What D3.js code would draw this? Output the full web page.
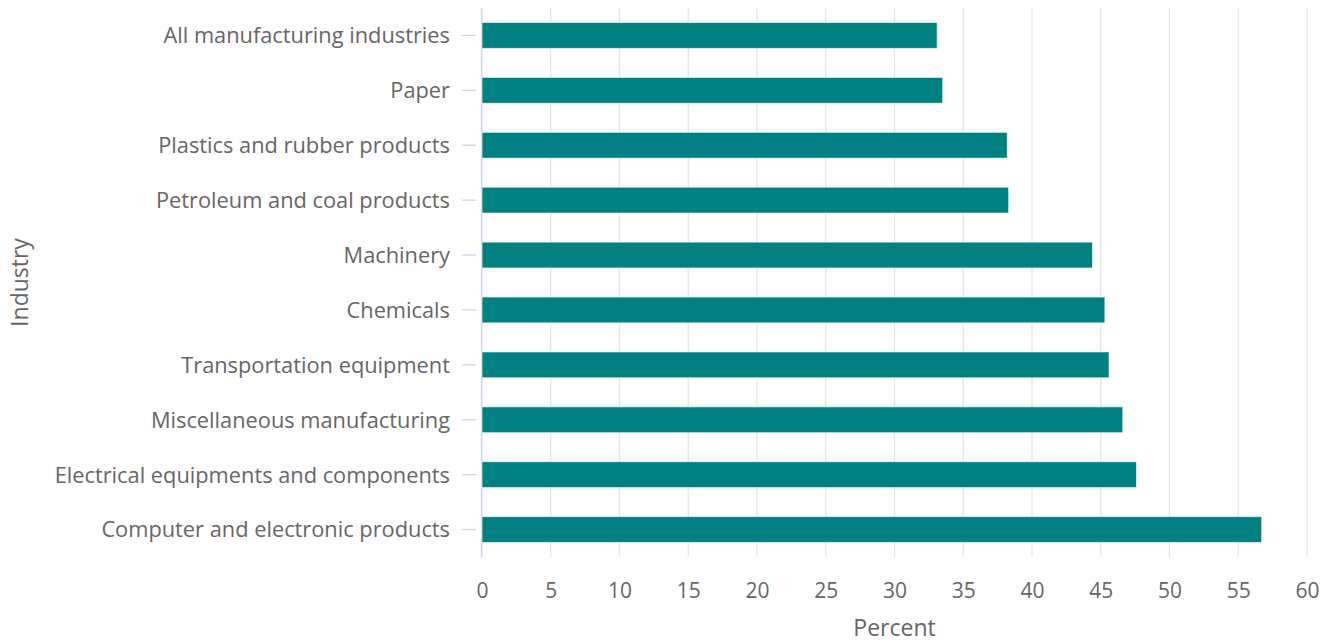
<!DOCTYPE html>
<html>
<head>
<meta charset="utf-8">
<script src="https://cdn.jsdelivr.net/npm/d3@7"></script>
<style>
    body { margin: 0; background: #fff; }
    svg { display: block; }
    svg text { font-family: "Open Sans", sans-serif; }
</style>
</head>
<body>
<div id="chart"></div>
<script>
    // industries, top to bottom
    var industries = [
        'All manufacturing industries',
        'Paper',
        'Plastics and rubber products',
        'Petroleum and coal products',
        'Machinery',
        'Chemicals',
        'Transportation equipment',
        'Miscellaneous manufacturing',
        'Electrical equipments and components',
        'Computer and electronic products'
    ];
    var percents = [33.1, 33.5, 38.2, 38.3, 44.4, 45.3, 45.6, 46.6, 47.6, 56.7];
    var xTicks = [0, 5, 10, 15, 20, 25, 30, 35, 40, 45, 50, 55, 60];

    var width = 1335,
        height = 644,
        margin = {top: 8, right: 28, bottom: 87, left: 482};

    var svg = d3.select('#chart')
        .append('svg')
        .attr('width', width)
        .attr('height', height);

    var x = d3.scaleLinear()
        .domain([0, 60])
        .range([margin.left, width - margin.right]);

    var y = d3.scaleBand()
        .domain(industries)
        .range([margin.top, height - margin.bottom])
        .paddingInner(0.53)
        .paddingOuter(0.265);

    var rows = industries.map(function (name, i) {
        return {name: name, value: percents[i]};
    });

    // vertical grid
    svg.append('g')
        .selectAll('line')
        .data(xTicks)
        .enter()
        .append('line')
        .attr('x1', function (d) { return x(d); })
        .attr('x2', function (d) { return x(d); })
        .attr('y1', margin.top)
        .attr('y2', height - margin.bottom)
        .attr('stroke', '#e6e6e6')
        .attr('stroke-width', 1.3);

    // bottom tick labels, no axis line
    var xAxis = svg.append('g')
        .attr('transform', 'translate(0,' + (height - margin.bottom) + ')')
        .call(d3.axisBottom(x).tickValues(xTicks).tickSize(0).tickPadding(26));
    xAxis.select('.domain').remove();
    xAxis.selectAll('text')
        .attr('fill', '#666')
        .style('font-family', '"Open Sans", sans-serif')
        .style('font-size', '21px');

    // category axis
    var yAxis = svg.append('g')
        .attr('transform', 'translate(' + (margin.left - 1) + ',0)')
        .call(d3.axisLeft(y).tickSizeOuter(0).tickSizeInner(19).tickPadding(12));
    yAxis.select('.domain')
        .attr('stroke', '#ccd6eb')
        .attr('stroke-width', 1.3);
    yAxis.selectAll('.tick line')
        .attr('stroke', '#ccd6eb')
        .attr('stroke-width', 1.3)
        .attr('x2', -5)
        .attr('x1', -19);
    yAxis.selectAll('text')
        .attr('fill', '#666')
        .attr('dy', '0.36em')
        .style('font-family', '"Open Sans", sans-serif')
        .style('font-size', '21.8px');

    svg.append('g')
        .selectAll('rect')
        .data(rows)
        .enter()
        .append('rect')
        .attr('x', x(0))
        .attr('y', function (d) { return y(d.name); })
        .attr('width', function (d) { return x(d.value) - x(0); })
        .attr('height', y.bandwidth())
        .attr('fill', '#008080')
        .attr('stroke', '#ffffff')
        .attr('stroke-opacity', 0.6)
        .attr('stroke-width', 1);

    // axis titles
    svg.append('text')
        .attr('x', (x(0) + x(60)) / 2)
        .attr('y', 636)
        .attr('text-anchor', 'middle')
        .attr('fill', '#666')
        .style('font-size', '23px')
        .text('Percent');

    svg.append('text')
        .attr('transform', 'translate(28,' + ((margin.top + height - margin.bottom) / 2) + ') rotate(-90)')
        .attr('text-anchor', 'middle')
        .attr('fill', '#666')
        .style('font-size', '23px')
        .text('Industry');
</script>
</body>
</html>
